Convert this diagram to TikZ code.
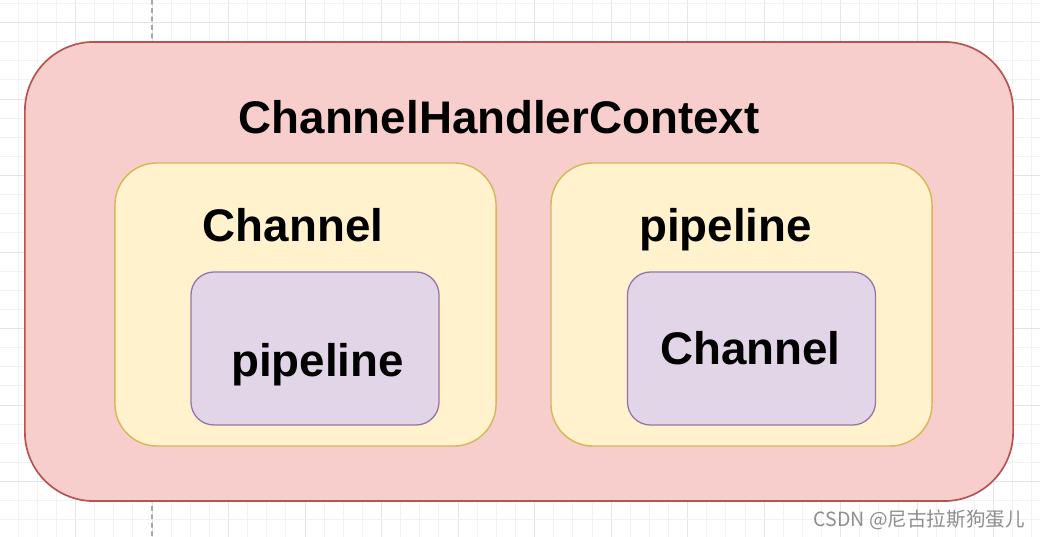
\documentclass[tikz,border=0pt]{standalone}
\usepackage{fontspec}
\setmainfont{Liberation Sans}
\newfontfamily\cjkfont{Noto Sans CJK SC}
\definecolor{ctxfill}{HTML}{F8CECC}
\definecolor{ctxline}{HTML}{B85450}
\definecolor{midfill}{HTML}{FFF2CC}
\definecolor{midline}{HTML}{D6B656}
\definecolor{infill}{HTML}{E1D5E7}
\definecolor{inline}{HTML}{9673A6}
\definecolor{gridminor}{HTML}{F2F2F2}
\definecolor{gridmajor}{HTML}{E4E4E4}
\definecolor{markgray}{HTML}{8E8E8E}

\begin{document}
\begin{tikzpicture}[line cap=round,line join=round,x=0.025cm,y=-0.025cm,
	ctxbox/.style={draw=ctxline,fill=ctxfill,line width=1.2pt,rounded corners=1.725cm,
		minimum width=24.7cm,minimum height=11.475cm,inner sep=0pt},
	midbox/.style={draw=midline,fill=midfill,line width=1pt,rounded corners=1.05cm,
		minimum width=9.525cm,minimum height=7.075cm,inner sep=0pt},
	inbox/.style={draw=inline,fill=infill,line width=0.9pt,rounded corners=0.575cm,
		minimum width=6.2cm,minimum height=3.825cm,inner sep=0pt},
	boxlabel/.style={anchor=base,inner sep=0pt,font=\fontsize{32.5}{38}\selectfont\bfseries}]
	\useasboundingbox (0,0) rectangle (1040,537);
	\clip (0,0) rectangle (1040,537);
	\fill [white] (0,0) rectangle (1040,537);
	\foreach \i in {0,...,55} {
		\pgfmathsetmacro{\gx}{-1.04+19.13*\i}
		\pgfmathtruncatemacro{\gm}{mod(\i,4)}
		\ifnum\gm=0
			\draw [gridmajor,line width=0.7pt] (\gx,0) -- (\gx,537);
		\else
			\draw [gridminor,line width=0.7pt] (\gx,0) -- (\gx,537);
		\fi
	}
	\foreach \j in {0,...,28} {
		\pgfmathsetmacro{\gy}{3.35+19.13*\j}
		\pgfmathtruncatemacro{\gm}{mod(\j,4)}
		\ifnum\gm=1
			\draw [gridmajor,line width=0.7pt] (0,\gy) -- (1040,\gy);
		\else
			\draw [gridminor,line width=0.7pt] (0,\gy) -- (1040,\gy);
		\fi
	}
	\draw [color=black!35,line width=0.8pt,dash pattern=on 3pt off 3pt] (152,0) -- (152,537);

	\node [ctxbox] (ctx) at (519,271.5) {};
	\node [midbox] (chanbox) at (305.5,304.5) {};
	\node [midbox] (pipebox) at (741.5,304.5) {};
	\node [inbox] (pipeinner) at (315,348.5) {};
	\node [inbox] (chaninner) at (751.5,348.5) {};

	\node [boxlabel] (ctxlabel) at (499,134) {ChannelHandlerContext};
	\node [boxlabel] (chanlabel) at (293,242) {Channel};
	\node [boxlabel] (pipelabel) at (725.5,242) {pipeline};
	\node [boxlabel] (pipeinnerlabel) at (317.5,377) {pipeline};
	\node [boxlabel] (chaninnerlabel) at (750.5,365) {Channel};

	\node [anchor=base east,inner sep=0pt,text=markgray,font=\cjkfont\fontsize{13.9}{16}\selectfont] (mark) at (1025,526) {CSDN @尼古拉斯狗蛋儿};
\end{tikzpicture}
\end{document}
